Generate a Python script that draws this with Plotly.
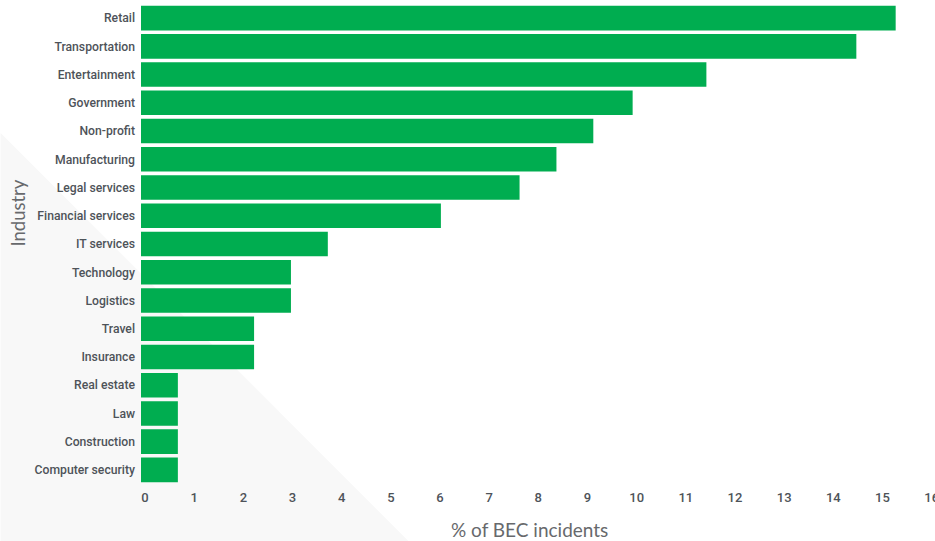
import plotly.graph_objects as go

# Share of BEC incidents by industry (percent)
industries = [
    "Retail", "Transportation", "Entertainment", "Government", "Non-profit",
    "Manufacturing", "Legal services", "Financial services", "IT services",
    "Technology", "Logistics", "Travel", "Insurance", "Real estate", "Law",
    "Construction", "Computer security",
]
share_pct = [15.35, 14.55, 11.5, 10.0, 9.2, 8.45, 7.7, 6.1, 3.8, 3.05, 3.05,
             2.3, 2.3, 0.75, 0.75, 0.75, 0.75]
x_ticks = list(range(0, 17))

BAR_GREEN = "#00ad50"
LABEL_GREY = "#4e5359"
TITLE_GREY = "#67696c"
TICK_FONT = "Roboto, sans-serif"
TITLE_FONT = "Lato, Roboto, Open Sans, sans-serif"

fig = go.Figure(
    go.Bar(
        x=share_pct,
        y=industries,
        orientation="h",
        marker=dict(color=BAR_GREEN, line=dict(width=0)),
        hovertemplate="%{y}: %{x}%<extra></extra>",
    )
)

# plot area geometry (pixels) for the decorative backdrop
W, H = 935, 541
L, R, T, B = 140.5, 0, 4, 57
pw, ph = W - L - R, H - T - B


def px_to_paper(px, py):
    return (px - L) / pw, (H - B - py) / ph


tri = [px_to_paper(0, 133), px_to_paper(0, 541), px_to_paper(408, 541)]
path = "M {} {} L {} {} L {} {} Z".format(*[c for p in tri for c in p])

fig.update_layout(
    width=W,
    height=H,
    margin=dict(l=L, r=R, t=T, b=B),
    paper_bgcolor="white",
    plot_bgcolor="rgba(0,0,0,0)",
    bargap=0.13,
    showlegend=False,
    shapes=[
        dict(type="path", path=path, xref="paper", yref="paper",
             fillcolor="#f8f8f8", line=dict(width=0), layer="below"),
    ],
    xaxis=dict(
        range=[0, 16.15],
        tickmode="array",
        tickvals=x_ticks,
        ticktext=[str(v) for v in x_ticks],
        showgrid=False,
        zeroline=False,
        showline=False,
        ticks="",
        automargin=False,
        ticklabelshift=4,
        ticklabelstandoff=4,
        ticklabeloverflow="allow",
        tickfont=dict(family=TICK_FONT, size=13, color=LABEL_GREY, weight=500),
        fixedrange=True,
    ),
    yaxis=dict(
        autorange="reversed",
        showgrid=False,
        zeroline=False,
        showline=False,
        ticks="",
        automargin=False,
        ticklabelstandoff=5,
        tickfont=dict(family=TICK_FONT, size=12.2, color=LABEL_GREY, weight=500),
        fixedrange=True,
    ),
    annotations=[
        dict(text="% of BEC incidents", xref="paper", yref="paper",
             x=(529 - L) / pw, y=(H - B - 529) / ph,
             xanchor="center", yanchor="middle", showarrow=False,
             font=dict(family=TITLE_FONT, size=19, color=TITLE_GREY)),
        dict(text="Industry", xref="paper", yref="paper",
             x=(17 - L) / pw, y=(H - B - 213) / ph, textangle=-90,
             xanchor="center", yanchor="middle", showarrow=False,
             font=dict(family=TITLE_FONT, size=18.5, color=TITLE_GREY)),
    ],
)

fig.write_html("out.html", config={"displayModeBar": False})
